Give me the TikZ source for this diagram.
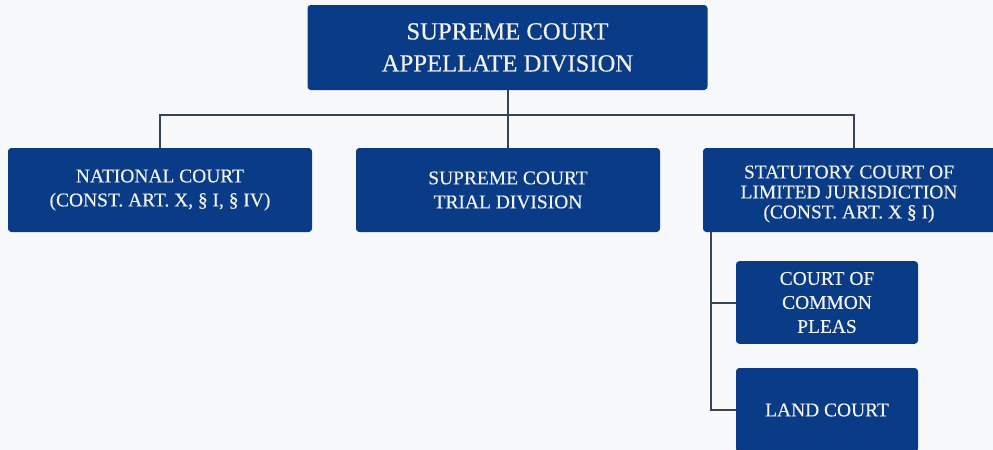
\documentclass[tikz,border=0pt]{standalone}
\usepackage{fontspec}
\setmainfont{Liberation Serif}
\newfontfamily\courtfont{Liberation Serif}[FakeBold=0.35]
\usepackage{tikz}
\usetikzlibrary{calc}
\definecolor{courtblue}{RGB}{10, 59, 134}
\definecolor{pagegray}{RGB}{247, 248, 250}
\definecolor{linkgray}{RGB}{55, 68, 84}
\definecolor{boxtext}{RGB}{242, 242, 236}

\begin{document}
\begin{tikzpicture}[x=0.75pt, y=-0.75pt,
  court/.style={fill=courtblue, rounded corners=2.5pt, text=boxtext, align=center,
    inner sep=0pt, font=\courtfont\fontsize{14.6}{18}\selectfont},
  link/.style={draw=linkgray, line width=1.5pt}]
  % Page
  \fill[pagegray] (0,0) rectangle (993,450);
  \useasboundingbox (0,0) rectangle (993,450);

  % Boxes
  \node[court, minimum width=300pt, minimum height=63.75pt,
    font=\courtfont\fontsize{18.5}{24}\selectfont] (appeal) at (507.5,47.5)
    {SUPREME COURT\\APPELLATE DIVISION};
  \node[court, minimum width=228pt, minimum height=63pt] (natl) at (160,190)
    {NATIONAL COURT\\(CONST. ART. X, \S\ I, \S\ IV)};
  \node[court, minimum width=228pt, minimum height=63pt] (trial) at (508,190)
    {SUPREME COURT\\TRIAL DIVISION};
  \begin{scope}
    \clip (0,0) rectangle (993,450);
    \node[court, minimum width=226.5pt, minimum height=63pt] (stat) at (854,190) {};
    \node[court, minimum width=136.5pt, minimum height=63pt] (land) at (827,410) {};
  \end{scope}
  \node[font=\courtfont\fontsize{14.6}{15}\selectfont, text=boxtext, align=center]
    at (849,194) {STATUTORY COURT OF\\LIMITED JURISDICTION\\(CONST. ART. X \S\ I)};
  \node[court, minimum width=136.5pt, minimum height=62pt] (pleas) at (827,302.5)
    {COURT OF\\COMMON\\PLEAS};
  \node[text=boxtext, font=\courtfont\fontsize{14.6}{18}\selectfont] at (land)
    {LAND COURT};

  % Connectors
  \coordinate (bus) at (507.5,115);
  \coordinate (spine) at ($(stat.south west)+(8,0)$);
  \draw[link] (appeal.south) -- (bus);
  \draw[link] (natl.north) |- (bus) -| (stat.north);
  \draw[link] (trial.north) -- (trial.north |- bus);
  \draw[link] (spine) |- (pleas.west);
  \draw[link] (spine) |- (land.west);
\end{tikzpicture}
\end{document}
